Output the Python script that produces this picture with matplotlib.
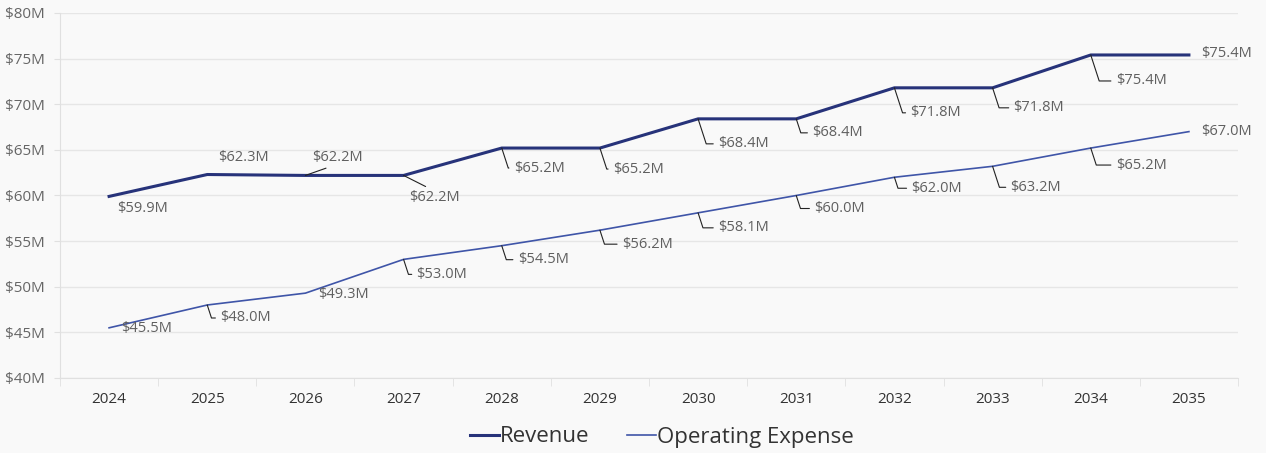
import numpy as np
import matplotlib.pyplot as plt
from matplotlib.ticker import FuncFormatter

# Values ($M)
years = ["2024", "2025", "2026", "2027", "2028", "2029", "2030", "2031", "2032", "2033", "2034", "2035"]
revenue = [59.9, 62.3, 62.2, 62.2, 65.2, 65.2, 68.4, 68.4, 71.8, 71.8, 75.4, 75.4]
opex = [45.5, 48.0, 49.3, 53.0, 54.5, 56.2, 58.1, 60.0, 62.0, 63.2, 65.2, 67.0]

# Label placement (pixel offsets of label left/center from point) and leader style
rev_offsets = [(8, -12), (11, 17), (7, 18), (6, -22), (12, -20), (13, -21), (20, -25),
               (16, -14), (16, -25), (21, -20), (25, -26), (12, 1)]
rev_leader = [None, None, "up", "down", "elbow", "elbow", "elbow", "elbow", "elbow", "elbow", "elbow", None]
opex_offsets = [(12, -1), (13, -13), (13, -1), (13, -15), (16, -14), (22, -14), (20, -15),
                (18, -13), (17, -11), (18, -21), (25, -17), (12, 0)]
opex_leader = [None, "elbow", None, "elbow", "elbow", "elbow", "elbow", "elbow", "elbow", "elbow", "elbow", None]

plt.rcParams["font.family"] = ["Open Sans", "DejaVu Sans"]

bg = "#f9f9f9"
fig = plt.figure(figsize=(12.66, 4.53), dpi=100, facecolor=bg)
ax = fig.add_axes([60 / 1266, 75 / 453, 1178 / 1266, 365 / 453], facecolor=bg)

x = np.arange(len(years))
ax.plot(x, revenue, color="#27337a", linewidth=2.2, label="Revenue", zorder=3)
ax.plot(x, opex, color="#3f55a8", linewidth=1.2, label="Operating Expense", zorder=3)


def add_labels(vals, offsets, leaders):
    for i, v in enumerate(vals):
        dx, dy = offsets[i]
        kind = leaders[i]
        text = f"${v:.1f}M"
        style = dict(textcoords="offset pixels", ha="left", va="center",
                     fontsize=10.5, color="#606060")
        if kind is None:
            ax.annotate(text, xy=(i, v), xytext=(dx, dy), **style)
        elif kind == "elbow":
            ax.annotate(text, xy=(i, v), xytext=(dx, dy), **style,
                        arrowprops=dict(arrowstyle="-", color="#222222", linewidth=0.8,
                                        shrinkA=1.5, shrinkB=0, relpos=(0, 0.5),
                                        connectionstyle="angle,angleA=0,angleB=-72,rad=0"))
        else:
            rel = (0.45, 0) if kind == "up" else (0.45, 1)
            ax.annotate(text, xy=(i, v), xytext=(dx, dy), **style,
                        arrowprops=dict(arrowstyle="-", color="#222222", linewidth=0.8,
                                        shrinkA=1, shrinkB=0, relpos=rel))


add_labels(revenue, rev_offsets, rev_leader)
add_labels(opex, opex_offsets, opex_leader)

ax.set_xlim(-0.5, len(years) - 0.5)
ax.set_ylim(40, 80)
ax.set_yticks(np.arange(40, 81, 5))
ax.yaxis.set_major_formatter(FuncFormatter(lambda v, p: f"${v:.0f}M"))
ax.set_xticks(x)
ax.set_xticklabels(years)
ax.set_xticks(np.arange(-0.5, len(years), 1), minor=True)

ax.grid(axis="y", color="#e6e6e6", linewidth=1)
ax.set_axisbelow(True)
for s in ["top", "right"]:
    ax.spines[s].set_visible(False)
ax.spines["left"].set_color("#e0e0e0")
ax.spines["bottom"].set_color("#e0e0e0")
ax.tick_params(axis="y", length=4, color="#e0e0e0", labelsize=11, labelcolor="#666666", pad=7)
ax.tick_params(axis="x", which="major", length=0, labelsize=11, labelcolor="#333333", pad=10)
ax.tick_params(axis="x", which="minor", length=6, color="#e0e0e0")

fig.legend(loc="center", bbox_to_anchor=(0.523, 16 / 453), ncol=2, frameon=False,
           fontsize=16, handlelength=1.3, handletextpad=0.05, columnspacing=1.7,
           labelcolor="#333333")

plt.savefig("out.png", dpi=100, facecolor=bg)
